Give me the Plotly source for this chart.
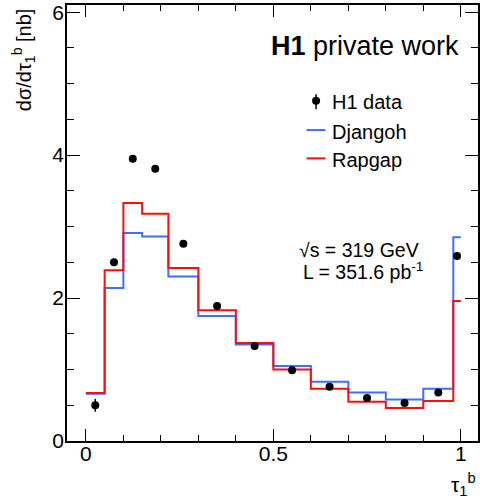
import plotly.graph_objects as go

# Binning of tau_1^b and measured / predicted cross sections [nb]
bin_edges = [0.0, 0.05, 0.10, 0.15, 0.22, 0.30, 0.40, 0.50, 0.60, 0.70, 0.80, 0.90, 0.98, 1.0]
bin_centers = [0.025, 0.075, 0.125, 0.185, 0.26, 0.35, 0.45, 0.55, 0.65, 0.75, 0.85, 0.94, 0.99]
h1_data = [0.50, 2.50, 3.95, 3.81, 2.76, 1.89, 1.33, 0.99, 0.76, 0.60, 0.53, 0.68, 2.59]
h1_err = [0.09, 0.04, 0.05, 0.05, 0.04, 0.03, 0.03, 0.03, 0.02, 0.02, 0.02, 0.03, 0.04]
djangoh = [0.66, 2.14, 2.91, 2.86, 2.30, 1.75, 1.35, 1.05, 0.83, 0.68, 0.58, 0.73, 2.85]
rapgap = [0.67, 2.39, 3.33, 3.18, 2.42, 1.83, 1.37, 1.00, 0.73, 0.55, 0.46, 0.56, 1.96]

x_tick_vals = [0, 0.5, 1]
x_tick_text = ["0", "0.5", "1"]
y_tick_vals = [0, 2, 4, 6]
y_tick_text = ["0", "2", "4", "6"]

BLUE = "#3f6fff"
RED = "#ff0d0d"
FONT = "Liberation Sans, Arial, sans-serif"


def steps(values):
    # step outline over the bin edges (value repeated for the last edge)
    return list(values) + [values[-1]]


fig = go.Figure()

fig.add_trace(go.Scatter(
    x=bin_edges, y=steps(djangoh), mode="lines", line_shape="hv",
    line=dict(color=BLUE, width=2), name="Djangoh", showlegend=False,
))
fig.add_trace(go.Scatter(
    x=bin_edges, y=steps(rapgap), mode="lines", line_shape="hv",
    line=dict(color=RED, width=2), name="Rapgap", showlegend=False,
))
fig.add_trace(go.Scatter(
    x=bin_centers, y=h1_data, mode="markers", name="H1 data",
    marker=dict(color="black", size=8),
    error_y=dict(type="data", array=h1_err, color="black", thickness=1.5, width=0),
    showlegend=False,
))

axis_common = dict(
    showline=True, linecolor="black", linewidth=1.5, mirror="ticks",
    ticks="inside", tickcolor="black", tickwidth=1,
    showgrid=False, zeroline=False,
    tickfont=dict(family=FONT, size=21, color="black"),
)

fig.update_xaxes(
    range=[-0.0504, 1.0459], tickvals=x_tick_vals, ticktext=x_tick_text,
    ticklen=12, ticklabelstandoff=-7,
    minor=dict(dtick=0.1, tick0=0, ticks="inside", ticklen=6, tickcolor="black", showgrid=False),
    **axis_common,
)
fig.update_yaxes(
    range=[0, 6.1], tickvals=y_tick_vals, ticktext=y_tick_text,
    ticklen=13, ticklabelstandoff=-3,
    minor=dict(dtick=0.5, tick0=0, ticks="inside", ticklen=7, tickcolor="black", showgrid=False),
    **axis_common,
)

annotations = [
    dict(text="<b>H1</b> private work", xref="paper", yref="paper", x=0.959, y=0.905,
         xanchor="right", yanchor="middle", showarrow=False,
         font=dict(family=FONT, size=27, color="black")),
    dict(text="√s = 319 GeV", xref="x", yref="y", x=0.566, y=2.67,
         xanchor="left", yanchor="middle", showarrow=False, borderpad=0,
         font=dict(family=FONT, size=19.5, color="black")),
    dict(text="L = 351.6 pb<sup>-1</sup>", xref="x", yref="y", x=0.577, y=2.38,
         xanchor="left", yanchor="middle", showarrow=False, borderpad=0,
         font=dict(family=FONT, size=19.5, color="black")),
    dict(text="H1 data", xref="x", yref="y", x=0.652, y=4.74,
         xanchor="left", yanchor="middle", showarrow=False,
         font=dict(family=FONT, size=20, color="black")),
    dict(text="Djangoh", xref="x", yref="y", x=0.652, y=4.33,
         xanchor="left", yanchor="middle", showarrow=False,
         font=dict(family=FONT, size=20, color="black")),
    dict(text="Rapgap", xref="x", yref="y", x=0.652, y=3.93,
         xanchor="left", yanchor="middle", showarrow=False,
         font=dict(family=FONT, size=20, color="black")),
    dict(text="dσ/dτ<sub>1</sub><sup>b</sup> [nb]", xref="paper", yref="paper",
         x=-0.104, y=0.874, xanchor="center", yanchor="middle", textangle=-90,
         showarrow=False, font=dict(family=FONT, size=20, color="black")),
    dict(text="τ<sub>1</sub><sup>b</sup>", xref="paper", yref="paper",
         x=1.0, y=-0.10, xanchor="right", yanchor="middle",
         showarrow=False, font=dict(family=FONT, size=21, color="black")),
]

shapes = [
    # legend: data marker with error bar
    dict(type="line", xref="x", yref="y", x0=0.614, x1=0.614, y0=4.64, y1=4.85,
         line=dict(color="black", width=1.5)),
    dict(type="circle", xref="x", yref="y", xsizemode="pixel", ysizemode="pixel",
         xanchor=0.614, yanchor=4.76, x0=-4, x1=4, y0=-4, y1=4,
         fillcolor="black", line=dict(color="black", width=0)),
    # legend: Djangoh and Rapgap line samples
    dict(type="line", xref="x", yref="y", x0=0.5885, x1=0.639, y0=4.35, y1=4.35,
         line=dict(color=BLUE, width=2)),
    dict(type="line", xref="x", yref="y", x0=0.5885, x1=0.639, y0=3.954, y1=3.954,
         line=dict(color=RED, width=2)),
]

fig.update_layout(
    width=480, height=502,
    margin=dict(l=67, r=0, t=5, b=61),
    plot_bgcolor="white", paper_bgcolor="white",
    font=dict(family=FONT, color="black"),
    showlegend=False,
    annotations=annotations,
    shapes=shapes,
)

fig.write_html("out.html")
